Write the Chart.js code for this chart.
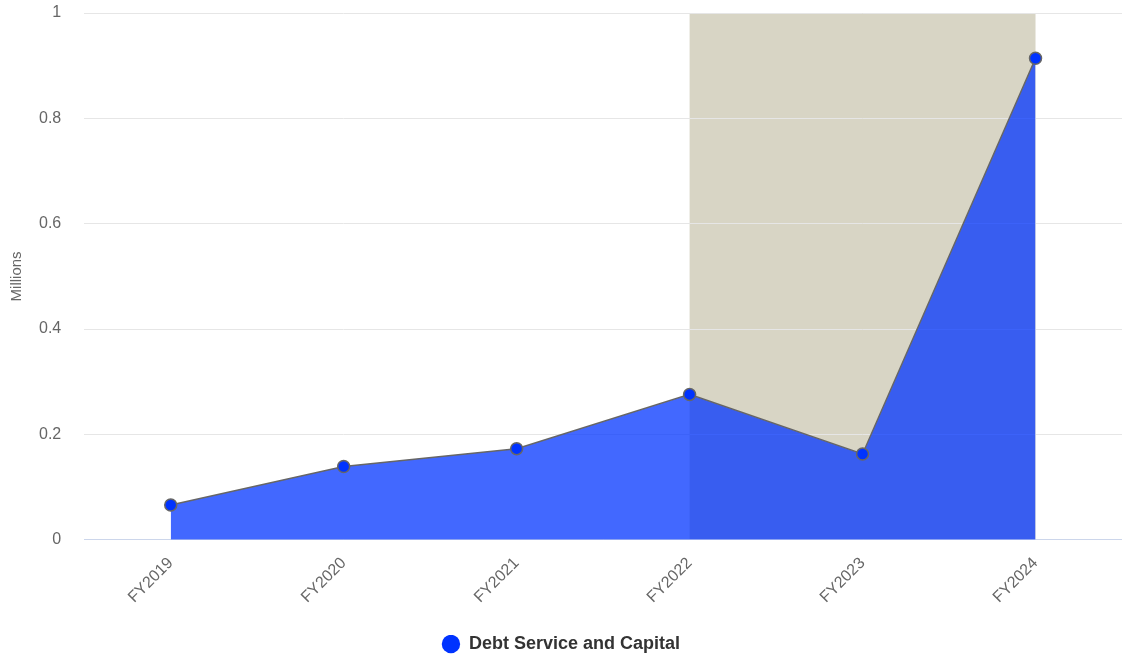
<!DOCTYPE html>
<html lang="en">
  <head>
    <meta charset="UTF-8" />
    <title>Debt Service and Capital</title>
    <script src="https://cdn.jsdelivr.net/npm/chart.js@4/dist/chart.umd.min.js"></script>
    <style>
      html, body { margin: 0; padding: 0; background: #fff; overflow: hidden; }
      .chart-container { position: relative; width: 1122px; height: 656px; }
    </style>
  </head>
  <body>
    <div class="chart-container">
      <canvas id="chart1"></canvas>
    </div>
    <script>
      // data
      const years = ['FY2019', 'FY2020', 'FY2021', 'FY2022', 'FY2023', 'FY2024'];
      const debtService = [0.066, 0.139, 0.173, 0.276, 0.163, 0.914];
      const seriesName = 'Debt Service and Capital';
      const bandFrom = 'FY2022';
      const bandTo = 'FY2024';

      const FONT = 'Liberation Sans, Arial, sans-serif';

      // shaded band between two categories, drawn under the gridlines
      const bandPlugin = {
        id: 'bandPlugin',
        beforeDraw(chart) {
          const { ctx, chartArea: { top, bottom }, scales: { x } } = chart;
          const x1 = x.getPixelForValue(years.indexOf(bandFrom));
          const x2 = x.getPixelForValue(years.indexOf(bandTo));
          ctx.save();
          ctx.fillStyle = '#d8d5c5';
          ctx.fillRect(x1, top, x2 - x1, bottom - top);
          ctx.restore();
        }
      };

      const ctx = document.getElementById('chart1');
      const myChart = new Chart(ctx, {
        type: 'line',
        data: {
          labels: years,
          datasets: [{
            label: seriesName,
            data: debtService,
            fill: 'origin',
            backgroundColor: 'rgba(0, 51, 255, 0.74)',
            borderColor: '#666666',
            borderWidth: 1.5,
            tension: 0,
            pointRadius: 6,
            pointHoverRadius: 6,
            pointBackgroundColor: '#0033ff',
            pointBorderColor: '#666666',
            pointBorderWidth: 1.5
          }]
        },
        options: {
          responsive: true,
          maintainAspectRatio: false,
          animation: false,
          layout: {
            autoPadding: false,
            padding: { top: 13, right: 0, left: 0, bottom: -7 }
          },
          scales: {
            x: {
              offset: true,
              grid: {
                display: true,
                drawOnChartArea: false,
                color: 'transparent',
                drawTicks: true,
                tickLength: 14,
                tickColor: 'transparent'
              },
              border: { display: true, color: '#ccd6eb', width: 1 },
              ticks: {
                color: '#666666',
                font: { family: FONT, size: 16 },
                minRotation: 45,
                maxRotation: 45,
                padding: 0
              },
              afterFit(scale) {
                scale.height += 28;
                scale.paddingLeft = 0;
                scale.paddingRight = 0;
              }
            },
            y: {
              min: 0,
              max: 1,
              grid: {
                color: '#e6e6e6',
                drawTicks: true,
                tickLength: 23,
                tickColor: 'transparent'
              },
              border: { display: false },
              ticks: {
                stepSize: 0.2,
                color: '#666666',
                padding: 0,
                font: { family: FONT, size: 16 },
                callback: (v) => String(+v.toFixed(1))
              },
              title: {
                display: true,
                text: 'Millions',
                color: '#666666',
                padding: { top: 8, bottom: 13 },
                font: { family: FONT, size: 15 }
              }
            }
          },
          plugins: {
            tooltip: { enabled: false },
            legend: {
              position: 'bottom',
              labels: {
                usePointStyle: true,
                boxWidth: 22,
                boxHeight: 13,
                padding: 0,
                color: '#333333',
                font: { family: FONT, size: 18, weight: 'bold' },
                generateLabels(chart) {
                  return chart.data.datasets.map((ds, i) => ({
                    text: ds.label,
                    fillStyle: '#0033ff',
                    strokeStyle: '#0033ff',
                    lineWidth: 0,
                    pointStyle: 'circle',
                    fontColor: '#333333',
                    datasetIndex: i
                  }));
                }
              }
            }
          }
        },
        plugins: [bandPlugin]
      });
    </script>
  </body>
</html>
